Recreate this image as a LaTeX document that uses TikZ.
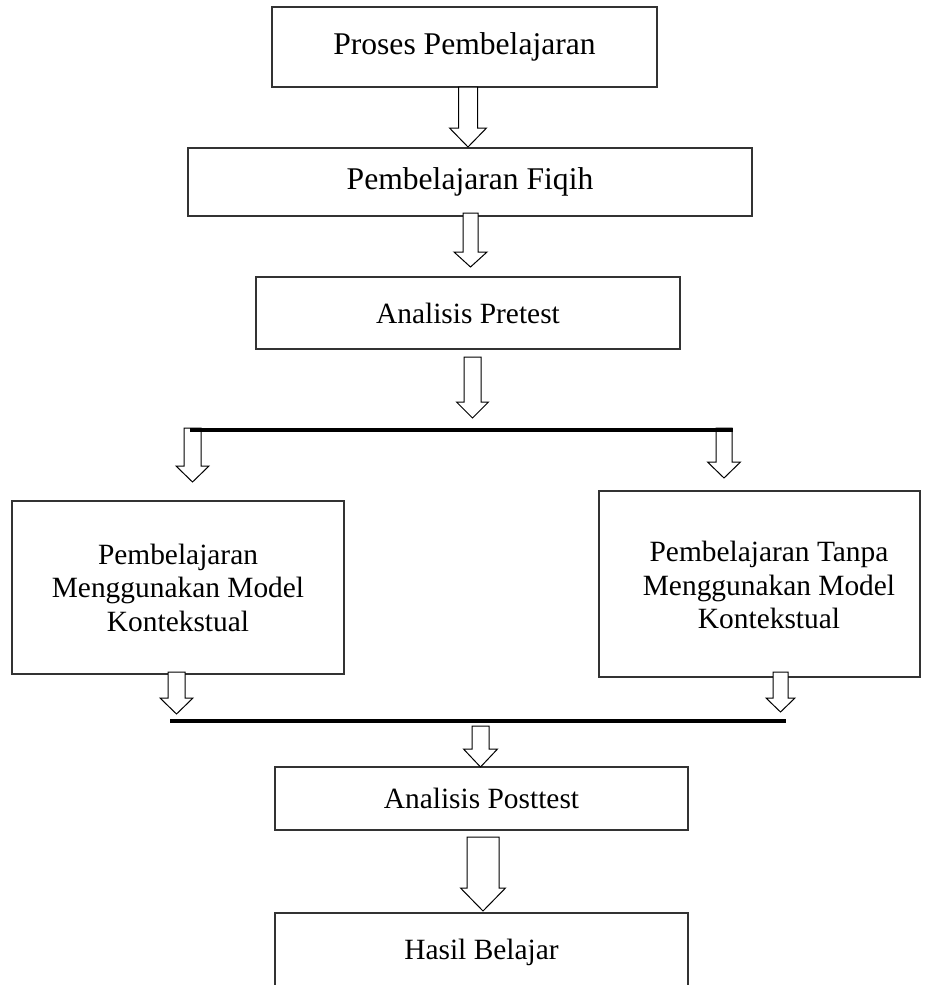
\documentclass[tikz,border=0pt]{standalone}
\usepackage{fontspec}
\setmainfont{Liberation Serif}
\usetikzlibrary{calc, positioning}

% hollow block arrow: #1 top, #2 tip, #3 half shaft, #4 half head, #5 head length
\newcommand{\blockarrow}[5]{%
  \draw[fill=white, line width=0.5pt] let \p1=#1, \p2=#2 in
    (\x1-#3,\y1) -- (\x1+#3,\y1) -- (\x1+#3,\y2+#5) -- (\x1+#4,\y2+#5)
    -- (\x2,\y2) -- (\x1-#4,\y2+#5) -- (\x1-#3,\y2+#5) -- cycle;}

\begin{document}
\begin{tikzpicture}[x=0.5pt, y=-0.5pt,
    box/.style={draw=black!80, line width=0.6pt, align=center, inner sep=0pt},
    big/.style={font=\fontsize{15.8}{19}\selectfont},
    small/.style={font=\fontsize{14.7}{16.75}\selectfont}]
    \clip (0,0) rectangle (930,985);

    % Kotak-kotak
    \node[box, big, minimum width=192.5pt, minimum height=40pt] (proses) at (464.5,47) {Proses Pembelajaran};
    \node[box, big, minimum width=282pt, minimum height=34pt] (fiqih) at (470,182) {Pembelajaran Fiqih};
    \node[box, small, minimum width=212pt, minimum height=36pt] (pretest) at (468,313) {Analisis Pretest};
    \node[box, small, minimum width=166pt, minimum height=86.5pt] (model) at (178,587.5)
        {Pembelajaran\\Menggunakan Model\\Kontekstual};
    \node[box, minimum width=160.5pt, minimum height=93pt] (tanpa) at (759.5,584) {};
    \node[small, align=center] (tanpatext) at (769,585)
        {Pembelajaran Tanpa\\Menggunakan Model\\Kontekstual};
    \node[box, small, minimum width=206.5pt, minimum height=31.5pt] (posttest) at (481.5,798.5) {Analisis Posttest};
    \node[box, small, minimum width=206.5pt, minimum height=39pt] (hasil) at (481.5,952) {Hasil Belajar};

    % Panah
    \blockarrow{(468,87)}{(468,147)}{4.75pt}{9.25pt}{9.5pt}
    \blockarrow{(470.5,213)}{(470.5,267)}{3.75pt}{8.25pt}{7.5pt}
    \blockarrow{(472.5,357)}{(472.5,418)}{4.25pt}{8pt}{8pt}
    \blockarrow{(192.5,428)}{(192.5,482)}{4.25pt}{8.25pt}{8pt}
    \blockarrow{(724,428)}{(724,478)}{4pt}{8.25pt}{8pt}
    \blockarrow{(176.5,672)}{(176.5,714)}{4.25pt}{8.25pt}{8pt}
    \blockarrow{(780.5,672)}{(780.5,712)}{3.75pt}{7.25pt}{7pt}
    \blockarrow{(480.5,726)}{(480.5,767)}{4.25pt}{8.5pt}{9pt}
    \blockarrow{(483,837)}{(483,911)}{8pt}{11.25pt}{11.5pt}

    % Garis tebal
    \draw[line width=2pt] (190,430) -- (733,430);
    \draw[line width=2pt] (170,720.5) -- (786,720.5);

\end{tikzpicture}
\end{document}
